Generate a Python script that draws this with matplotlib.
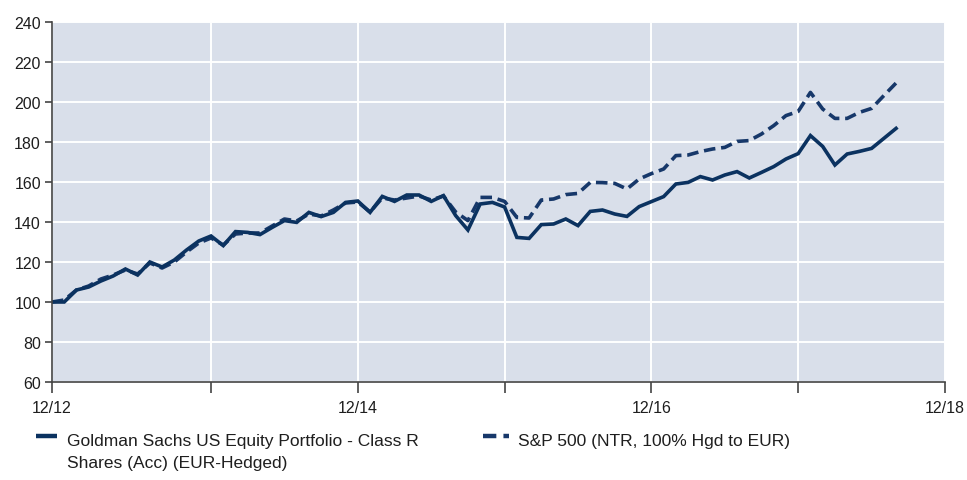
import matplotlib
matplotlib.use("Agg")
import matplotlib.pyplot as plt
from matplotlib.lines import Line2D

plt.rcParams['font.family'] = ['Liberation Sans', 'DejaVu Sans']

# monthly index values, rebased to 100 (70 points, 12/12 .. 8/18)
fund = [100, 100, 106, 107.5, 110.5, 113, 116.5, 113.5, 120, 117.5, 121, 126, 130.5,
        133, 128.2, 135.2, 134.8, 133.7, 137.3, 140.7, 139.8, 144.8, 142.7, 144.8, 149.8,
        150.5, 144.8, 152.8, 150.3, 153.5, 153.5, 150.3, 153.2, 143.2, 136, 149, 149.8,
        147.5, 132.3, 131.8, 138.7, 139, 141.5, 138.2, 145.3, 146, 144, 142.8, 147.7,
        150.2, 152.7, 159, 159.8, 162.7, 161, 163.5, 165.2, 162, 164.8, 167.7, 171.5,
        174.2, 183.2, 177.8, 168.5, 174, 175.3, 176.8, 181.8, 186.8]
bench = [100, 101, 106, 108, 111.5, 113.5, 116, 114, 119.5, 117, 120, 125, 129.5,
         132, 128.5, 134, 134.5, 134.5, 138, 141.5, 140.5, 144, 143, 146, 149.5,
         150, 145, 152, 151, 152, 153, 151, 153, 145, 140.7, 152.3, 152.3,
         150.3, 142.3, 142, 151, 151.5, 153.7, 154.3, 159.8, 159.7, 159.3, 156.5, 161.5,
         164.2, 166.5, 173.2, 173.5, 175.2, 176.5, 177.3, 180.3, 180.7, 184, 188.2, 193.2,
         195.3, 204.8, 196.5, 191.8, 191.8, 194.8, 196.8, 203.2, 209.5]
x = list(range(len(fund)))

year_ticks = [0, 13, 25, 37, 49, 61, 73]
year_labels = ["12/12", "", "12/14", "", "12/16", "", "12/18"]
y_ticks = [60, 80, 100, 120, 140, 160, 180, 200, 220, 240]

fund_label = "Goldman Sachs US Equity Portfolio - Class R\nShares (Acc) (EUR-Hedged)"
bench_label = "S&P 500 (NTR, 100% Hgd to EUR)"

navy = "#0b3260"
dash_col = "#17386a"
txt = "#1e1e1e"

fig = plt.figure(figsize=(9.67, 4.81), dpi=100)
ax = fig.add_axes([52/967, 1 - 383/481, 893/967, 360/481])
ax.set_facecolor("#d9dfea")

ax.plot(x, bench, color=dash_col, lw=2.6, dashes=(3.2, 1.6), solid_capstyle='butt')
ax.plot(x, fund, color=navy, lw=2.6, solid_joinstyle='miter')

ax.set_xlim(0, 73)
ax.set_ylim(60, 240)
ax.set_xticks(year_ticks)
ax.set_xticklabels(year_labels)
ax.set_yticks(y_ticks)
ax.grid(True, color="white", lw=1.4)
ax.set_axisbelow(True)

for s in ['top', 'right']:
    ax.spines[s].set_visible(False)
for s in ['left', 'bottom']:
    ax.spines[s].set_color("#444444")
    ax.spines[s].set_linewidth(1.2)
ax.tick_params(axis='y', length=5, width=1.2, color="#444444", labelsize=11.5, labelcolor=txt, pad=3)
ax.tick_params(axis='x', length=8, width=1.2, color="#444444", labelsize=11.5, labelcolor=txt, pad=5)

# legend below the plot
fig.add_artist(Line2D([36/967, 57/967], [1 - 437/481] * 2, color=navy, lw=3.2,
                      solid_capstyle='butt'))
fig.text(67/967, 1 - 434/481, fund_label, fontsize=12.5, color=txt, va='top',
         linespacing=1.6)
fig.add_artist(Line2D([483/967, 509/967], [1 - 437/481] * 2, color=dash_col, lw=3.2,
                      dashes=(3, 1.6), solid_capstyle='butt'))
fig.text(518/967, 1 - 434/481, bench_label, fontsize=12.5, color=txt, va='top')

fig.savefig("out.png", dpi=100)
